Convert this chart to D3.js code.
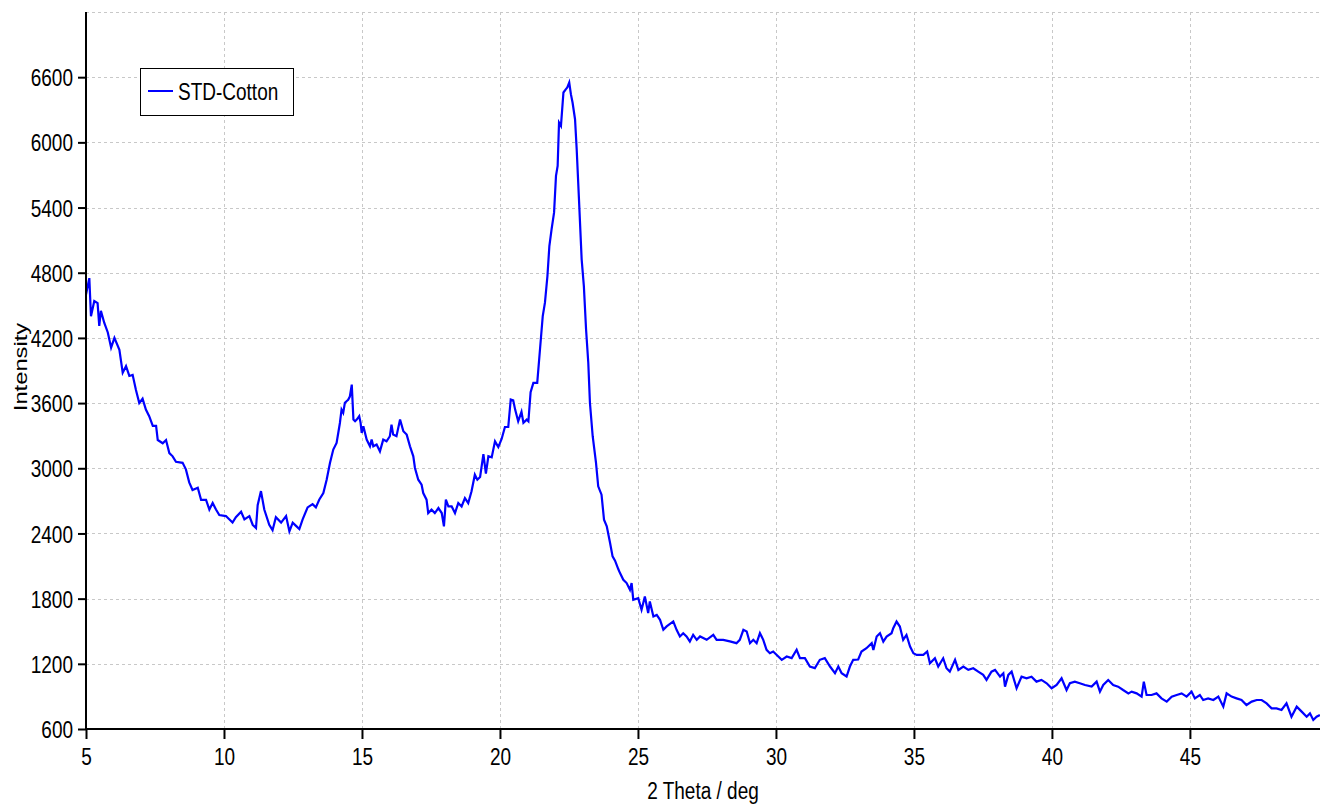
<!DOCTYPE html>
<html>
<head>
<meta charset="utf-8">
<script src="https://cdn.jsdelivr.net/npm/d3@7"></script>
<style>
  html, body { margin: 0; padding: 0; background: #fff; }
  svg { display: block; }
  text { font-family: "Liberation Sans", Arial, sans-serif; fill: #000; }
</style>
</head>
<body>
<svg id="chart" width="1320" height="805"></svg>
<script>
// ---- data ----
const seriesName = "STD-Cotton";
const xTicks = [5, 10, 15, 20, 25, 30, 35, 40, 45];
const yTicks = [600, 1200, 1800, 2400, 3000, 3600, 4200, 4800, 5400, 6000, 6600];
const yGridExtra = [7200];
const theta = [
  5.00,5.12,5.18,5.30,5.42,5.48,5.54,5.66,5.79,5.91,6.03,6.21,6.33,6.45,6.57,6.69,6.81,6.93,7.05,7.17,
  7.29,7.42,7.54,7.60,7.78,7.90,8.02,8.14,8.26,8.50,8.62,8.74,8.86,9.05,9.17,9.35,9.47,9.59,9.71,9.83,
  10.07,10.19,10.31,10.43,10.62,10.74,10.92,11.04,11.16,11.22,11.34,11.46,11.64,11.76,11.88,12.07,12.25,12.37,12.49,12.61,
  12.73,12.85,13.03,13.21,13.33,13.45,13.60,13.72,13.84,13.96,14.08,14.14,14.20,14.26,14.32,14.38,14.44,14.50,14.56,14.63,
  14.69,14.75,14.81,14.90,14.95,14.99,15.05,15.17,15.29,15.35,15.41,15.53,15.65,15.77,15.89,16.01,16.07,16.13,16.25,16.38,
  16.50,16.62,16.74,16.86,16.92,17.04,17.16,17.22,17.34,17.40,17.52,17.64,17.77,17.89,17.97,18.04,18.13,18.25,18.37,18.49,
  18.61,18.73,18.85,18.97,19.09,19.18,19.28,19.40,19.49,19.58,19.70,19.82,19.94,20.06,20.18,20.30,20.39,20.48,20.55,20.66,
  20.78,20.85,20.97,21.03,21.11,21.21,21.35,21.45,21.55,21.63,21.72,21.79,21.87,21.96,22.03,22.09,22.14,22.21,22.30,22.39,
  22.44,22.51,22.57,22.63,22.72,22.78,22.86,22.96,23.04,23.12,23.20,23.26,23.36,23.48,23.56,23.68,23.77,23.87,23.99,24.08,
  24.17,24.29,24.35,24.47,24.59,24.71,24.77,24.83,25.01,25.13,25.25,25.37,25.43,25.56,25.68,25.80,25.92,26.04,26.28,26.40,
  26.52,26.64,26.76,26.88,27.00,27.13,27.25,27.49,27.73,27.85,28.09,28.33,28.57,28.69,28.82,28.94,29.06,29.18,29.30,29.42,
  29.54,29.66,29.78,29.90,30.02,30.21,30.39,30.57,30.75,30.87,31.05,31.23,31.41,31.59,31.77,31.96,32.14,32.26,32.38,32.56,
  32.68,32.80,32.98,33.10,33.28,33.47,33.53,33.65,33.77,33.89,34.01,34.19,34.25,34.37,34.49,34.61,34.73,34.86,34.98,35.10,
  35.34,35.48,35.58,35.76,35.88,36.06,36.18,36.30,36.49,36.61,36.79,36.97,37.15,37.33,37.51,37.63,37.81,37.94,38.12,38.24,
  38.30,38.42,38.54,38.72,38.90,39.08,39.26,39.44,39.62,39.81,39.99,40.17,40.35,40.53,40.65,40.83,41.01,41.20,41.44,41.62,
  41.74,41.86,42.04,42.22,42.40,42.58,42.77,42.89,43.07,43.25,43.33,43.43,43.61,43.79,43.97,44.16,44.34,44.52,44.70,44.88,
  45.06,45.18,45.36,45.48,45.66,45.85,46.03,46.21,46.33,46.51,46.69,46.87,47.05,47.24,47.42,47.60,47.78,47.96,48.14,48.32,
  48.50,48.68,48.87,49.05,49.23,49.35,49.47,49.59,49.71
];
const intensity = [
  4600,4750,4400,4540,4520,4310,4450,4340,4250,4110,4200,4090,3880,3940,3850,3860,3720,3600,3640,3540,
  3480,3390,3390,3260,3230,3260,3140,3110,3060,3050,2990,2870,2800,2820,2710,2710,2620,2680,2620,2570,
  2560,2530,2500,2550,2600,2530,2560,2480,2450,2660,2790,2620,2480,2430,2550,2500,2560,2420,2500,2470,
  2440,2530,2640,2670,2640,2710,2772,2895,3049,3172,3233,3325,3417,3540,3510,3602,3617,3630,3660,3770,
  3448,3433,3448,3479,3418,3325,3387,3264,3202,3264,3202,3218,3156,3264,3248,3295,3402,3310,3295,3448,
  3341,3310,3202,3110,3003,2895,2849,2772,2711,2588,2619,2588,2634,2588,2465,2711,2649,2649,2588,2680,
  2649,2726,2680,2788,2941,2895,2920,3130,2950,3110,3100,3248,3195,3270,3380,3380,3633,3625,3540,3433,
  3520,3418,3448,3433,3700,3786,3786,4093,4401,4524,4770,5046,5200,5353,5691,5783,6182,6152,6459,6490,
  6505,6551,6444,6367,6213,5937,5491,4923,4677,4278,3971,3602,3295,3049,2834,2757,2527,2465,2312,2189,
  2150,2070,2035,1974,1943,1882,1943,1790,1805,1697,1820,1667,1774,1636,1650,1605,1513,1544,1590,1513,
  1452,1482,1452,1406,1467,1421,1452,1421,1467,1421,1421,1406,1390,1421,1513,1498,1390,1421,1390,1482,
  1421,1329,1298,1313,1283,1237,1267,1252,1329,1252,1252,1175,1160,1237,1252,1175,1114,1175,1114,1083,
  1175,1237,1240,1313,1344,1390,1328,1451,1482,1405,1451,1482,1528,1589,1543,1420,1466,1359,1297,1282,
  1282,1313,1205,1251,1175,1251,1159,1128,1236,1144,1175,1144,1159,1128,1098,1052,1128,1144,1082,1113,
  990,1098,1128,975,1082,1067,1082,1036,1052,1021,975,1005,1067,959,1021,1036,1021,1005,990,1036,
  944,1005,1051,1005,990,959,928,944,928,898,1036,913,913,928,882,852,898,913,928,898,
  944,882,913,867,882,867,898,806,928,898,882,867,821,852,867,867,836,790,790,775,
  836,713,806,760,713,744,683,713,728
];

// ---- layout ----
const svg = d3.select("#chart");
const mLeft = 86, mRight = 1321, mTop = 12, mBottom = 729;
const fontSize = 19, stretch = 1.25;

const x = d3.scaleLinear().domain([5, 49.75]).range([mLeft, mRight]);
const y = d3.scaleLinear().domain([600, 7200]).range([mBottom, mTop]);

// grid
const grid = svg.append("g").attr("stroke", "#c8c8c8").attr("stroke-width", 1)
  .attr("stroke-dasharray", "3,3").attr("fill", "none");
grid.selectAll("line.h").data(yTicks.slice(1).concat(yGridExtra)).enter().append("line")
  .attr("x1", mLeft).attr("x2", mRight)
  .attr("y1", d => Math.round(y(d)) + 0.5).attr("y2", d => Math.round(y(d)) + 0.5);
grid.selectAll("line.v").data(xTicks.slice(1)).enter().append("line")
  .attr("y1", mTop).attr("y2", mBottom)
  .attr("x1", d => Math.round(x(d)) + 0.5).attr("x2", d => Math.round(x(d)) + 0.5);

// data line
const n = Math.min(theta.length, intensity.length);
const pts = d3.range(n).map(i => [theta[i], intensity[i]]);
svg.append("path").datum(pts)
  .attr("fill", "none").attr("stroke", "#0000ff").attr("stroke-width", 2.2)
  .attr("stroke-linejoin", "miter")
  .attr("d", d3.line().x(d => x(d[0])).y(d => y(d[1])));

// axes
const xAxis = svg.append("g").attr("transform", `translate(0,${mBottom})`)
  .call(d3.axisBottom(x).tickValues(xTicks).tickSize(10).tickFormat(d3.format("d")));
const yAxis = svg.append("g").attr("transform", `translate(${mLeft},0)`)
  .call(d3.axisLeft(y).tickValues(yTicks).tickSize(8).tickFormat(d3.format("d")));
[xAxis, yAxis].forEach(g => {
  g.select(".domain").attr("stroke", "#000").attr("stroke-width", 2);
  g.selectAll(".tick line").attr("stroke", "#000").attr("stroke-width", 2);
  g.selectAll(".tick text").attr("font-size", fontSize).attr("fill", "#000")
    .attr("font-family", "'Liberation Sans', Arial, sans-serif");
});
xAxis.select(".domain").attr("d", `M${mLeft},0H${mRight}`);
yAxis.select(".domain").attr("d", `M0,${mTop}V${mBottom}`);
xAxis.selectAll(".tick text").attr("y", 0).attr("dy", "0.72em")
  .attr("transform", `translate(0,19) scale(1,${stretch})`);
yAxis.selectAll(".tick text").attr("x", -13).attr("dy", "0.36em")
  .attr("transform", `scale(1,${stretch})`);

// axis titles
svg.append("text").attr("transform", `translate(703,799) scale(1,${stretch})`)
  .attr("text-anchor", "middle").attr("font-size", fontSize).text("2 Theta / deg");
svg.append("text").attr("transform", `translate(27,367) rotate(-90) scale(${stretch},1)`)
  .attr("text-anchor", "middle").attr("font-size", fontSize).text("Intensity");

// legend
const lg = svg.append("g");
lg.append("rect").attr("x", 140.5).attr("y", 68.5).attr("width", 153).attr("height", 47)
  .attr("fill", "#fff").attr("stroke", "#000").attr("stroke-width", 1);
lg.append("line").attr("x1", 148).attr("x2", 173).attr("y1", 91).attr("y2", 91)
  .attr("stroke", "#0000ff").attr("stroke-width", 2);
lg.append("text").attr("transform", `translate(178,100) scale(1,${stretch})`)
  .attr("font-size", fontSize).text(seriesName);
</script>
</body>
</html>
